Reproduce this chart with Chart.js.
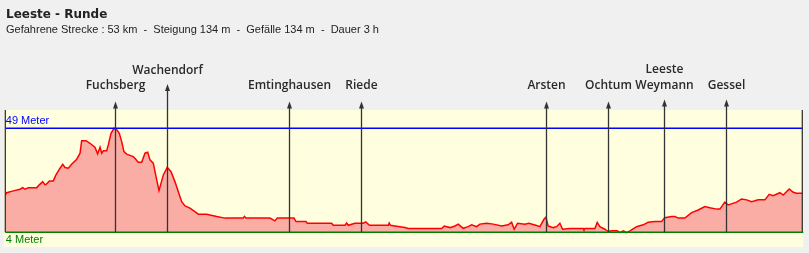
<!DOCTYPE html>
<html>
<head>
<meta charset="utf-8">
<script src="https://cdn.jsdelivr.net/npm/chart.js@4"></script>
<style>
  body { margin: 0; background: #f0f0f0; }
  #wrap { width: 809px; height: 253px; }
</style>
</head>
<body>
<div id="wrap"><canvas id="profil" width="809" height="253"></canvas></div>
<script>
// Strecke in km, Hoehe in Meter
const km = [0.00, 0.09, 0.53, 0.98, 1.16, 1.31, 1.53, 2.09, 2.26, 2.49, 2.64, 2.75, 2.93, 3.19, 3.37, 3.64, 3.82, 3.97, 4.19, 4.41,
  4.75, 4.97, 5.08, 5.37, 5.63, 5.96, 6.14, 6.30, 6.41, 6.52, 6.74, 6.85, 7.03, 7.23, 7.41, 7.58, 7.74, 7.89, 8.07, 8.51,
  8.62, 8.84, 9.07, 9.29, 9.47, 9.62, 9.84, 10.00, 10.22, 10.51, 10.77, 11.02, 11.28, 11.50, 11.73, 11.95, 12.28, 12.61, 12.83, 13.39,
  14.06, 14.61, 15.82, 15.90, 16.00, 17.60, 17.93, 18.09, 19.20, 19.33, 19.99, 20.08, 21.70, 21.81, 22.59, 22.70, 22.81, 23.25, 23.80, 23.98,
  24.11, 24.23, 25.47, 25.53, 25.61, 25.91, 26.58, 26.80, 29.02, 29.19, 29.57, 29.90, 30.12, 30.45, 30.78, 31.01, 31.34, 31.56, 32.01, 32.45,
  33.01, 33.44, 33.67, 33.84, 34.07, 34.55, 34.82, 35.33, 35.55, 35.82, 35.95, 36.10, 36.44, 36.66, 36.88, 37.06, 37.55, 38.43, 38.48, 38.54,
  39.21, 39.36, 39.54, 39.87, 40.09, 40.31, 40.69, 40.87, 41.10, 41.32, 41.54, 41.98, 42.42, 42.75, 43.20, 43.64, 43.86, 44.31, 44.53, 44.75,
  45.19, 45.64, 46.08, 46.52, 46.85, 47.30, 47.52, 47.85, 48.07, 48.63, 48.96, 49.30, 49.63, 50.07, 50.51, 50.80, 51.06, 51.51, 51.73, 52.13,
  52.40, 52.62, 52.95, 53.00];
const hoehe = [20.1, 21.1, 21.9, 22.6, 23.3, 22.6, 23.3, 23.3, 24.5, 25.9, 24.5, 24.9, 26.2, 26.2, 28.8, 31.7, 33.4, 32.0, 31.7, 33.4,
  35.6, 38.2, 43.6, 43.6, 42.5, 40.8, 37.9, 40.8, 38.2, 39.3, 39.3, 41.8, 46.8, 49.0, 48.3, 46.8, 43.2, 38.9, 37.8, 36.7,
  36.0, 34.3, 34.3, 38.2, 38.6, 35.3, 33.9, 28.8, 22.0, 28.8, 32.1, 30.2, 25.9, 21.6, 17.2, 15.4, 14.4, 12.9, 11.8, 11.8,
  10.8, 10.1, 10.1, 10.8, 10.1, 10.1, 8.9, 10.1, 10.1, 8.6, 8.6, 7.9, 7.9, 7.0, 7.0, 8.0, 7.0, 7.9, 7.9, 8.5,
  7.6, 7.0, 7.0, 8.0, 7.0, 6.7, 6.0, 5.6, 5.6, 6.7, 6.0, 6.7, 7.5, 5.7, 6.4, 7.2, 6.4, 7.5, 7.9, 7.5,
  6.7, 7.2, 8.3, 5.3, 7.9, 7.5, 7.9, 6.9, 6.4, 9.6, 10.5, 6.7, 6.0, 6.4, 7.9, 5.3, 5.6, 5.6, 5.1, 5.6,
  5.6, 8.2, 6.4, 5.3, 4.3, 4.6, 4.6, 3.8, 4.6, 3.8, 4.6, 6.4, 7.2, 8.3, 8.6, 8.6, 10.3, 10.8, 10.8, 10.1,
  10.1, 12.5, 13.6, 15.1, 14.6, 14.0, 14.0, 17.0, 15.8, 17.0, 18.4, 18.0, 17.2, 18.0, 18.0, 20.4, 19.8, 21.1, 20.1, 22.7,
  21.3, 20.9, 20.9, 20.9];

// Orte entlang der Strecke
const orte = [['Fuchsberg'], ['Wachendorf'], ['Emtinghausen'], ['Riede'], ['Arsten'], ['Ochtum'], ['Leeste', 'Weymann'], ['Gessel']];
const orteKm = [7.31, 10.77, 18.88, 23.67, 35.97, 40.09, 43.82, 47.94];

const hoeheMax = 49;
const hoeheMin = 4;
const titel = 'Leeste - Runde';
const untertitel = 'Gefahrene Strecke : 53 km  -  Steigung 134 m  -  Gefälle 134 m  -  Dauer 3 h';

const punkte = km.map((k, i) => ({ x: k, y: hoehe[i] }));

const hintergrund = {
  id: 'hintergrund',
  beforeDraw(chart) {
    const c = chart.ctx;
    const a = chart.chartArea;
    c.save();
    c.fillStyle = '#ffffe0';
    c.fillRect(a.left - 1.5, a.top, a.right - a.left + 2.5, a.bottom - a.top);
    c.restore();
  }
};

const beschriftung = {
  id: 'beschriftung',
  afterDatasetsDraw(chart) {
    const c = chart.ctx;
    const a = chart.chartArea;
    const xs = chart.scales.x;
    const ys = chart.scales.y;
    const yMax = ys.getPixelForValue(hoeheMax);
    const yMin = ys.getPixelForValue(hoeheMin);
    c.save();

    // 49 Meter Linie
    c.strokeStyle = '#0000ff';
    c.lineWidth = 1.3;
    c.beginPath();
    c.moveTo(a.left, yMax);
    c.lineTo(a.right, yMax);
    c.stroke();

    // Rand links / rechts
    c.strokeStyle = '#333';
    c.lineWidth = 1.3;
    [a.left, a.right].forEach(x => {
      c.beginPath();
      c.moveTo(x, a.top);
      c.lineTo(x, yMin);
      c.stroke();
    });

    // 4 Meter Linie
    c.strokeStyle = '#008000';
    c.lineWidth = 1.5;
    c.beginPath();
    c.moveTo(a.left, yMin);
    c.lineTo(a.right + 1, yMin);
    c.stroke();

    c.font = '11px "Liberation Sans"';
    c.textBaseline = 'middle';
    c.textAlign = 'left';
    c.fillStyle = '#0000ff';
    c.fillText(hoeheMax + ' Meter', a.left + 0.5, yMax - 7);
    c.fillStyle = '#008000';
    c.fillText(hoeheMin + ' Meter', a.left + 0.5, yMin + 8);

    // Orte mit Pfeilen
    c.font = '600 12px "Open Sans"';
    c.textAlign = 'center';
    orte.forEach((name, i) => {
      const x = Math.round(xs.getPixelForValue(orteKm[i])) + 0.5;
      const hoch = i === 1;
      const spitze = hoch ? 84 : (name.length > 1 || i === 7 ? 99.5 : 101.5);
      c.strokeStyle = '#333';
      c.lineWidth = 1.3;
      c.beginPath();
      c.moveTo(x, spitze + 4);
      c.lineTo(x, yMin);
      c.stroke();
      c.fillStyle = '#333';
      c.beginPath();
      c.moveTo(x, spitze);
      c.lineTo(x - 2.5, spitze + 7);
      c.lineTo(x + 2.5, spitze + 7);
      c.closePath();
      c.fill();
      c.fillStyle = '#2a2a2a';
      const unten = hoch ? 71 : 86;
      name.forEach((zeile, j) => {
        c.fillText(zeile, x, unten - (name.length - 1 - j) * 16);
      });
    });

    // Titel
    c.textAlign = 'left';
    c.fillStyle = '#222';
    c.font = 'bold 12px "DejaVu Sans"';
    c.fillText(titel, 6, 15);
    c.font = '11px "Liberation Sans"';
    c.fillText(untertitel, 6, 30);
    c.restore();
  }
};

new Chart(document.getElementById('profil'), {
  type: 'line',
  data: {
    datasets: [{
      data: punkte,
      borderColor: '#ff0000',
      borderWidth: 1.5,
      backgroundColor: 'rgb(249,173,165)',
      fill: { value: hoeheMin },
      pointRadius: 0,
      tension: 0
    }]
  },
  options: {
    responsive: false,
    animation: false,
    layout: { padding: { left: 5.3, right: 6.7, top: 110, bottom: 6 } },
    plugins: { legend: { display: false }, tooltip: { enabled: false } },
    scales: {
      x: { type: 'linear', min: 0, max: 53, display: false },
      y: { min: -2.4, max: 56.9, display: false }
    }
  },
  plugins: [hintergrund, beschriftung]
});
</script>
</body>
</html>
